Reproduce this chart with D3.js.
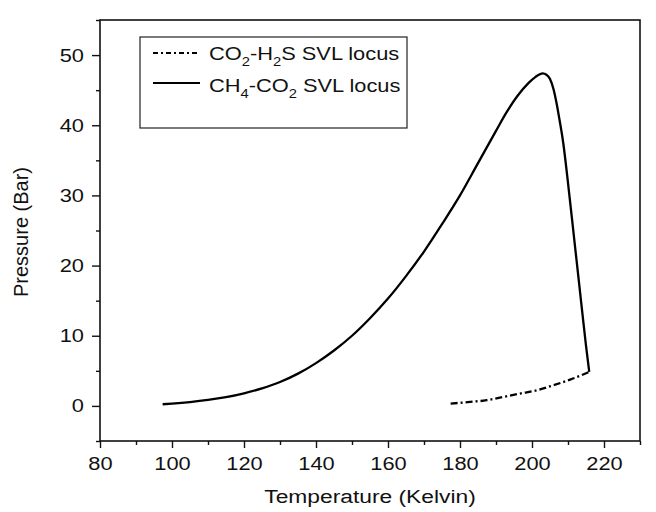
<!DOCTYPE html>
<html><head><meta charset="utf-8">
<script src="https://cdn.jsdelivr.net/npm/d3@7"></script>
<style>body{margin:0;background:#fff}svg{display:block}text{font-family:Arial,"Liberation Sans",sans-serif;fill:#111}</style>
</head><body><svg id="c" width="656" height="512"></svg>
<script>
// CH4-CO2 SVL locus (Temperature K, Pressure bar)
const ch4Temp = [97.4,100,105,110,115,120,125,130,135,140,145,150,155,160,165,170,175,180,185,190,193,196,199,201,203,204,205,206,206.8,207.5,208.7,210,212,214,215,215.9];
const ch4Pres = [0.24,0.33,0.55,0.85,1.25,1.8,2.5,3.4,4.6,6.1,7.9,10.0,12.5,15.3,18.5,22.0,25.9,30.0,34.6,39.2,41.9,44.2,46.0,46.9,47.4,47.2,46.6,45.1,43.2,41.2,37.4,31.8,22.5,13.2,8.6,4.84];
// CO2-H2S SVL locus
const co2Temp = [177.4,182.8,187.4,192.0,196.7,201.3,205.9,210.6,215.9];
const co2Pres = [0.34,0.57,0.81,1.28,1.76,2.23,2.94,3.75,4.84];
const xTicks = [80,100,120,140,160,180,200,220];
const yTicks = [0,10,20,30,40,50];

const svg = d3.select("#c");
const x = d3.scaleLinear().domain([80,230]).range([100,640]);
const y = d3.scaleLinear().domain([-5,55]).range([441,20]);
const FS = 18.5, SX = 1.18;

// frame
svg.append("rect").attr("x",100).attr("y",20).attr("width",540).attr("height",421)
  .attr("fill","none").attr("stroke","#111").attr("stroke-width",1.6);

// x axis
const xa = svg.append("g").attr("transform","translate(0,441)")
  .call(d3.axisBottom(x).tickValues(xTicks).tickSize(7).tickPadding(9).tickFormat(d3.format("d")));
const xm = svg.append("g").attr("transform","translate(0,441)")
  .call(d3.axisBottom(x).tickValues(d3.range(90,231,20)).tickSize(4).tickFormat(""));
// y axis
const ya = svg.append("g").attr("transform","translate(100,0)")
  .call(d3.axisLeft(y).tickValues(yTicks).tickSize(8).tickPadding(8).tickFormat(d3.format("d")));
const ym = svg.append("g").attr("transform","translate(100,0)")
  .call(d3.axisLeft(y).tickValues([-5,5,15,25,35,45,55]).tickSize(4).tickFormat(""));
[xa,xm,ya,ym].forEach(g=>{
  g.select(".domain").remove();
  g.selectAll("line").attr("stroke","#111").attr("stroke-width",1.4);
  g.selectAll("text").attr("font-size",FS).attr("fill","#111").style("font-family","Arial, 'Liberation Sans', sans-serif")
    .attr("transform",`scale(${SX},1)`);
});
ya.selectAll("text").attr("x",-16/SX);

// titles
svg.append("text").attr("transform",`translate(370,503) scale(1.2,1)`).attr("text-anchor","middle").attr("font-size",19).text("Temperature (Kelvin)");
svg.append("text").attr("transform","translate(28,232) rotate(-90)").attr("text-anchor","middle").attr("font-size",20).text("Pressure (Bar)");

const line = d3.line().x(d=>x(d[0])).y(d=>y(d[1])).curve(d3.curveMonotoneX);
svg.append("path").datum(d3.zip(ch4Temp,ch4Pres)).attr("d",line)
  .attr("fill","none").attr("stroke","#000").attr("stroke-width",2.3).attr("stroke-linejoin","round");
svg.append("path").datum(d3.zip(co2Temp,co2Pres)).attr("d",line)
  .attr("fill","none").attr("stroke","#000").attr("stroke-width",2.3).attr("stroke-dasharray","7,3,2,3");

// legend
svg.append("rect").attr("x",140).attr("y",37).attr("width",267).attr("height",91)
  .attr("fill","#fff").attr("stroke","#222").attr("stroke-width",1.2);
svg.append("line").attr("x1",153).attr("x2",199).attr("y1",53).attr("y2",53)
  .attr("stroke","#000").attr("stroke-width",2).attr("stroke-dasharray","5,3,2,3");
svg.append("line").attr("x1",153).attr("x2",200).attr("y1",83).attr("y2",83)
  .attr("stroke","#000").attr("stroke-width",2);
function legendText(yy, parts){
  const t = svg.append("text").attr("transform",`translate(209,${yy}) scale(${SX},1)`).attr("font-size",FS);
  parts.forEach(p=>{
    if(p[1]) { t.append("tspan").attr("font-size",12.5).attr("dy",6).text(p[0]); }
    else { t.append("tspan").attr("dy", p[2]||0).text(p[0]); }
  });
}
legendText(59.5,[["CO",0],["2",1],["-H",0,-6],["2",1],["S SVL locus",0,-6]]);
legendText(91.5,[["CH",0],["4",1],["-CO",0,-6],["2",1],[" SVL locus",0,-6]]);
</script></body></html>
